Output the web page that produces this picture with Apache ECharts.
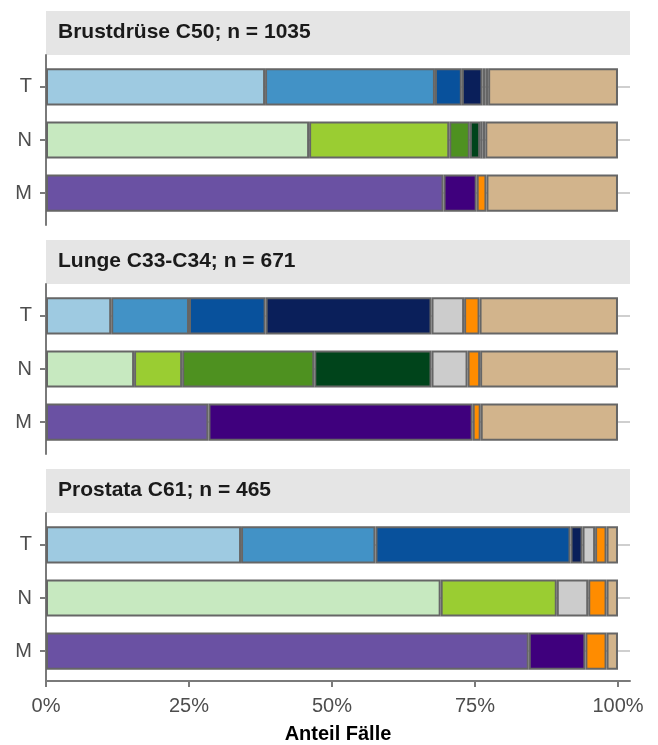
<!DOCTYPE html>
<html>
<head>
<meta charset="utf-8">
<script src="https://cdn.jsdelivr.net/npm/echarts@6/dist/echarts.min.js"></script>
<style>html,body{margin:0;padding:0;background:#fff;}#c{width:658px;height:745px;}</style>
</head>
<body>
<div id="c"></div>
<script>
// ---- data (percent of cases) ----
const categories = ['T', 'N', 'M'];
const facetTitles = ['Brustdrüse C50; n = 1035', 'Lunge C33-C34; n = 671', 'Prostata C61; n = 465'];
// segment order: level1, level2, level3, level4, X (grey), unknown (orange), missing (tan)
const brustT = [38.3, 29.7, 4.7, 3.6, 0.5, 0.5, 22.7];
const brustN = [46.0, 24.5, 3.6, 1.8, 0.4, 0.5, 23.2];
const brustM = [69.5, 5.8, 0, 0, 0, 1.7, 23.0];
const lungeT = [11.4, 13.6, 13.4, 29.0, 5.7, 2.7, 24.2];
const lungeN = [15.4, 8.4, 23.1, 20.5, 6.3, 2.2, 24.1];
const lungeM = [28.4, 46.2, 0, 0, 0, 1.4, 24.0];
const prostataT = [34.1, 23.5, 34.1, 2.1, 2.2, 2.0, 2.0];
const prostataN = [69.0, 20.3, 0, 0, 5.5, 3.2, 2.0];
const prostataM = [84.4, 9.9, 0, 0, 0, 3.7, 2.0];
const xTicks = [0, 25, 50, 75, 100];

// ---- styles ----
const paletteT = ['#9ecae1', '#4292c6', '#08519c', '#0a1f5a', '#cccccc', '#ff8c00', '#d2b48c'];
const paletteN = ['#c7e9c0', '#9acd32', '#4e9120', '#00441b', '#cccccc', '#ff8c00', '#d2b48c'];
const paletteM = ['#6a51a3', '#3f007d', '#3f007d', '#3f007d', '#cccccc', '#ff8c00', '#d2b48c'];
const palettes = [paletteT, paletteN, paletteM];
const panelData = [[brustT, brustN, brustM], [lungeT, lungeN, lungeM], [prostataT, prostataN, prostataM]];

const FONT = 'Liberation Sans, Arial, sans-serif';
const AXIS_COL = '#7a7a7a';
const LEFT = 46, WIDTH = 584, XMAX = 102.1;
const stripTops = [11, 240, 469];
const STRIP_H = 44, PANEL_H = 170;
const unit = PANEL_H / (categories.length + 0.2);

const grids = [], xAxes = [], yAxes = [], series = [], graphics = [];

panelData.forEach((rows, p) => {
  const panelTop = stripTops[p] + STRIP_H;
  const last = p === panelData.length - 1;
  // frame grid (full panel, holds axis lines)
  grids.push({ left: LEFT, top: panelTop, width: WIDTH, height: PANEL_H });
  xAxes.push({
    gridIndex: grids.length - 1, type: 'value', min: 0, max: XMAX, show: last,
    axisLine: { show: true, lineStyle: { color: AXIS_COL, width: 2 } },
    axisTick: { show: true, length: 6, lineStyle: { color: AXIS_COL, width: 2 }, customValues: xTicks },
    axisLabel: { fontSize: 20, color: '#4d4d4d', fontFamily: FONT, margin: 15, customValues: xTicks, formatter: v => v + '%' },
    splitLine: { show: false },
    name: last ? 'Anteil Fälle' : '', nameLocation: 'middle', nameGap: 43,
    nameTextStyle: { fontSize: 20, fontWeight: 'bold', color: '#000', fontFamily: FONT }
  });
  yAxes.push({
    gridIndex: grids.length - 1, type: 'value', min: 0, max: 1, offset: 1,
    axisLine: { show: true, lineStyle: { color: AXIS_COL, width: 2 } },
    axisTick: { show: false }, axisLabel: { show: false }, splitLine: { show: false }
  });
  // bar grid
  grids.push({ left: LEFT, top: panelTop + unit * 0.1, width: WIDTH, height: unit * categories.length });
  const gi = grids.length - 1;
  xAxes.push({ gridIndex: gi, type: 'value', min: 0, max: XMAX, show: false });
  yAxes.push({
    gridIndex: gi, type: 'category', data: categories, inverse: true, offset: 1,
    axisLine: { show: false },
    axisTick: { show: true, alignWithLabel: true, length: 6, lineStyle: { color: AXIS_COL, width: 2 } },
    axisLabel: { fontSize: 20, color: '#4d4d4d', fontFamily: FONT, margin: 13 },
    splitLine: { show: false }
  });
  for (let k = 0; k < 7; k++) {
    const s = {
      type: 'bar', xAxisIndex: xAxes.length - 1, yAxisIndex: yAxes.length - 1,
      stack: 'panel' + p, barWidth: '70%',
      data: rows.map((r, i) => r[k] > 0 ? {
        value: r[k],
        itemStyle: { color: palettes[i][k], borderColor: '#666666', borderWidth: 2 }
      } : '-')
    };
    if (k === 0) {
      s.markLine = {
        silent: true, z: 0, symbol: 'none', label: { show: false },
        lineStyle: { color: '#cfcfcf', width: 2, type: 'solid' },
        data: categories.map(c => ({ yAxis: c }))
      };
    }
    series.push(s);
  }
  // facet strip
  graphics.push({ type: 'rect', left: LEFT, top: stripTops[p], shape: { width: WIDTH, height: STRIP_H }, style: { fill: '#e5e5e5' }, z: -1 });
  graphics.push({ type: 'text', left: LEFT + 12, top: stripTops[p] + 11, style: { text: facetTitles[p], font: 'bold 21px ' + FONT, fill: '#1a1a1a' } });
});

const chart = echarts.init(document.getElementById('c'), null, { renderer: 'canvas' });
chart.setOption({
  animation: false,
  backgroundColor: '#ffffff',
  grid: grids, xAxis: xAxes, yAxis: yAxes, series: series, graphic: graphics
});
</script>
</body>
</html>
